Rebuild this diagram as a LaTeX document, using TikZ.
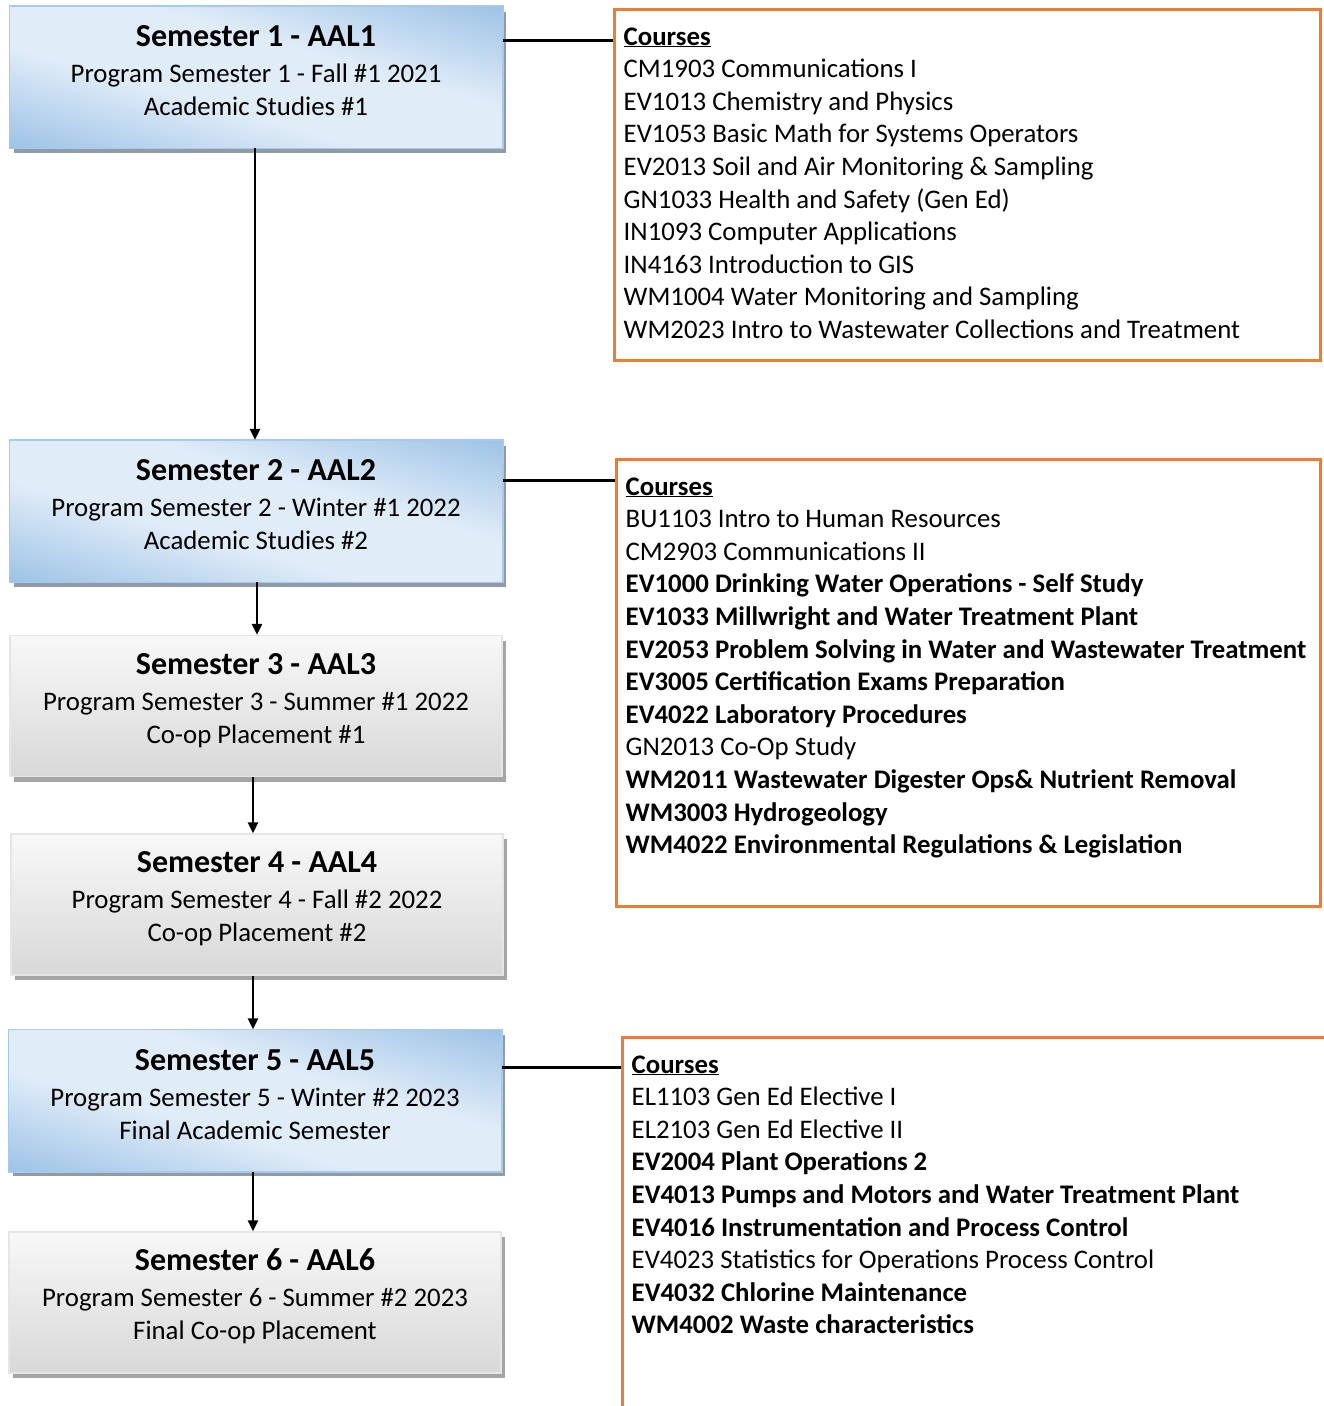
\documentclass[tikz,border=0pt]{standalone}
\usepackage{fontspec}
\setmainfont{Carlito}
\usetikzlibrary{arrows.meta,shadows,calc}
\definecolor{orng}{HTML}{ED7D31}
\definecolor{bluedk}{HTML}{9CC2E6}
\definecolor{bluelt}{HTML}{E0ECF8}
\definecolor{blueedge}{HTML}{A9C9EA}
\definecolor{blueshadow}{HTML}{8F9BA8}
\definecolor{graytop}{HTML}{F8F8F8}
\definecolor{graybot}{HTML}{D8D8D8}
\definecolor{grayedge}{HTML}{E6E6E6}
\definecolor{grayshadow}{HTML}{A5A5A5}
\pgfdeclareverticalshading{bluediag}{100bp}{color(0bp)=(bluedk); color(25bp)=(bluedk); color(43bp)=(bluelt); color(57bp)=(bluelt); color(75bp)=(bluedk); color(100bp)=(bluedk)}
\tikzset{
  sembox/.style={minimum width=492pt, minimum height=141pt, inner sep=0pt, line width=1.5pt},
  semblue/.style={sembox, draw=none, fill=bluelt,
    drop shadow={shadow xshift=4pt, shadow yshift=-5pt, fill=blueshadow, opacity=1}},
  semgray/.style={sembox, draw=grayedge, top color=graytop, bottom color=graybot,
    drop shadow={shadow xshift=4pt, shadow yshift=-5pt, fill=grayshadow, opacity=1}},
  semtext/.style={align=center, inner sep=0pt, font=\fontsize{26.8}{33}\selectfont},
  crsbox/.style={draw=orng, line width=3pt, inner sep=0pt},
  crs/.style={anchor=base west, inner sep=0pt, font=\fontsize{26.8}{32.6}\selectfont},
  arr/.style={line width=2.5pt, -{Stealth[length=11pt, width=10pt, inset=0pt]}},
  conn/.style={line width=3pt}
}
\newcommand{\semtitle}[1]{{\fontsize{32}{33}\selectfont\bfseries #1}\\[3pt]}
\newcommand{\bluefill}[1]{%
  \begin{scope}
    \clip (#1.south west) rectangle (#1.north east);
    \shade[transform canvas={rotate around={-16:(#1.center)}}, shading=bluediag]
      ($(#1.center)+(-330,-138)$) rectangle ($(#1.center)+(330,138)$);
  \end{scope}
  \draw[blueedge, line width=1.5pt] (#1.south west) rectangle (#1.north east);}
\begin{document}
\begin{tikzpicture}[x=1pt, y=-1pt]
\useasboundingbox (0,0) rectangle (1324,1406);
\clip (0,0) rectangle (1324,1406);
% semester boxes
\node[semblue] (b1) at (256,77) {};
\bluefill{b1}
\node[semtext] (t1) at ($(b1.center)+(0,-6.5)$) {\semtitle{Semester 1 - AAL1}Program Semester 1 - Fall \#1 2021\\Academic Studies \#1};
\node[semblue] (b2) at (256,511) {};
\bluefill{b2}
\node[semtext] (t2) at ($(b2.center)+(0,-6.5)$) {\semtitle{Semester 2 - AAL2}Program Semester 2 - Winter \#1 2022\\Academic Studies \#2};
\node[semgray] (b3) at (256,706) {};
\node[semtext] (t3) at ($(b3.center)+(0,-5.5)$) {\semtitle{Semester 3 - AAL3}Program Semester 3 - Summer \#1 2022\\Co-op Placement \#1};
\node[semgray] (b4) at (257,904.5) {};
\node[semtext] (t4) at ($(b4.center)+(0,-6)$) {\semtitle{Semester 4 - AAL4}Program Semester 4 - Fall \#2 2022\\Co-op Placement \#2};
\node[semblue] (b5) at (255,1100.5) {};
\bluefill{b5}
\node[semtext] (t5) at ($(b5.center)+(0,-6)$) {\semtitle{Semester 5 - AAL5}Program Semester 5 - Winter \#2 2023\\Final Academic Semester};
\node[semgray] (b6) at (255,1302.5) {};
\node[semtext] (t6) at ($(b6.center)+(0,-6)$) {\semtitle{Semester 6 - AAL6}Program Semester 6 - Summer \#2 2023\\Final Co-op Placement};
% arrows
\draw[arr] ([xshift=-1pt]b1.south) -- ([xshift=-1pt]b1.south |- b2.north);
\draw[arr] ([xshift=1pt]b2.south) -- ([xshift=1pt]b2.south |- b3.north);
\draw[arr] ([xshift=-3pt]b3.south) -- ([xshift=-3pt]b3.south |- b4.north);
\draw[arr] ([xshift=-4pt]b4.south) -- ([xshift=-4pt]b4.south |- b5.north);
\draw[arr] ([xshift=-2pt]b5.south) -- ([xshift=-2pt]b5.south |- b6.north);
% course boxes
\node[crsbox, minimum width=706pt, minimum height=351pt] (o1) at (967,184.5) {};
\node[crsbox, minimum width=704pt, minimum height=447pt] (o2) at (968,682.5) {};
\node[crsbox, minimum width=718pt, minimum height=393pt] (o3) at (981,1233.5) {};
% connectors
\draw[conn] ([yshift=-35pt]b1.north east) coordinate (h1) -- (h1 -| o1.west);
\draw[conn] ([yshift=-41pt]b2.north east) coordinate (h2) -- (h2 -| o2.west);
\draw[conn] ([yshift=-38pt]b5.north east) coordinate (h5) -- (h5 -| o3.west);
% course lists
\node[crs] (o1h) at ($(o1.north west)+(11,37.5)$) {\bfseries\underline{Courses}};
\foreach \t [count=\i] in {CM1903 Communications I, EV1013 Chemistry and Physics, EV1053 Basic Math for Systems Operators, EV2013 Soil and Air Monitoring \& Sampling, GN1033 Health and Safety (Gen Ed), IN1093 Computer Applications, IN4163 Introduction to GIS, WM1004 Water Monitoring and Sampling, WM2023 Intro to Wastewater Collections and Treatment}
  \node[crs] (o1l\i) at ($(o1.north west)+(11,37.5+32.6*\i)$) {\t};
\node[crs] (o2h) at ($(o2.north west)+(11,37.5)$) {\bfseries\underline{Courses}};
\foreach \t/\b [count=\i] in {BU1103 Intro to Human Resources/0, CM2903 Communications II/0, EV1000 Drinking Water Operations - Self Study/1, EV1033 Millwright and Water Treatment Plant/1, EV2053 Problem Solving in Water and Wastewater Treatment/1, EV3005 Certification Exams Preparation/1, EV4022 Laboratory Procedures/1, GN2013 Co-Op Study/0, WM2011 Wastewater Digester Ops\& Nutrient Removal/1, WM3003 Hydrogeology/1, WM4022 Environmental Regulations \& Legislation/1}
  \node[crs] (o2l\i) at ($(o2.north west)+(11,37.5+32.6*\i)$) {\ifnum\b=1\bfseries\fi\t};
\node[crs] (o3h) at ($(o3.north west)+(11,37.5)$) {\bfseries\underline{Courses}};
\foreach \t/\b [count=\i] in {EL1103 Gen Ed Elective I/0, EL2103 Gen Ed Elective II/0, EV2004 Plant Operations 2/1, EV4013 Pumps and Motors and Water Treatment Plant/1, EV4016 Instrumentation and Process Control/1, EV4023 Statistics for Operations Process Control/0, EV4032 Chlorine Maintenance/1, WM4002 Waste characteristics/1}
  \node[crs] (o3l\i) at ($(o3.north west)+(11,37.5+32.6*\i)$) {\ifnum\b=1\bfseries\fi\t};
\end{tikzpicture}
\end{document}
